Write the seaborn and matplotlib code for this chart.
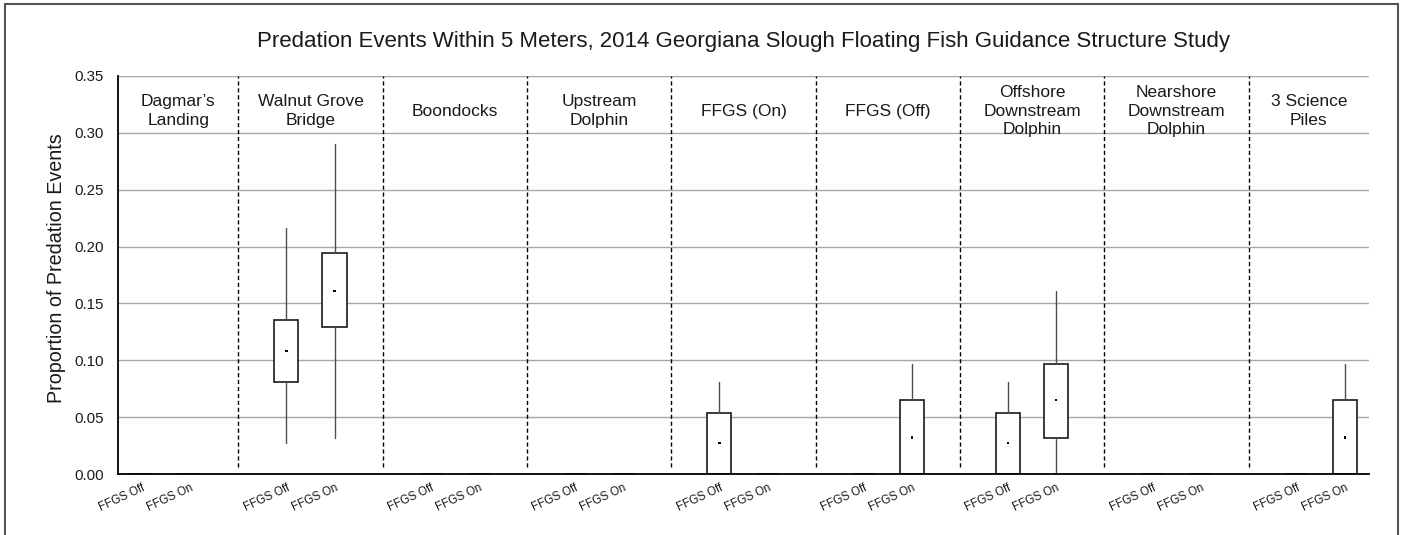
import numpy as np
import pandas as pd
import matplotlib
matplotlib.use("Agg")
import matplotlib.pyplot as plt
import seaborn as sns
from matplotlib.patches import Rectangle

# ---------------- data ----------------
sites = ["Dagmar\u2019s\nLanding", "Walnut Grove\nBridge", "Boondocks", "Upstream\nDolphin",
         "FFGS (On)", "FFGS (Off)", "Offshore\nDownstream\nDolphin",
         "Nearshore\nDownstream\nDolphin", "3 Science\nPiles"]
conditions = ["FFGS Off", "FFGS On"]

whislo_off = [0, 0.027, 0, 0, 0, 0, 0, 0, 0]
q1_off     = [0, 0.081, 0, 0, 0, 0, 0, 0, 0]
q3_off     = [0, 0.135, 0, 0, 0.054, 0, 0.054, 0, 0]
whishi_off = [0, 0.216, 0, 0, 0.081, 0, 0.081, 0, 0]
mean_off   = [0, 0.108, 0, 0, 0.027, 0, 0.027, 0, 0]

whislo_on = [0, 0.032, 0, 0, 0, 0, 0, 0, 0]
q1_on     = [0, 0.129, 0, 0, 0, 0, 0.032, 0, 0]
q3_on     = [0, 0.194, 0, 0, 0, 0.065, 0.097, 0, 0.065]
whishi_on = [0, 0.290, 0, 0, 0, 0.097, 0.161, 0, 0.097]
mean_on   = [0, 0.161, 0, 0, 0, 0.032, 0.065, 0, 0.032]

title = "Predation Events Within 5 Meters, 2014 Georgiana Slough Floating Fish Guidance Structure Study"
ylabel = "Proportion of Predation Events"
yticks = [0.00, 0.05, 0.10, 0.15, 0.20, 0.25, 0.30, 0.35]

# ---------------- style ----------------
sns.set_style("white")
plt.rcParams["font.family"] = ["Liberation Sans", "DejaVu Sans"]

fig = plt.figure(figsize=(14.08, 5.35), dpi=100)
ax = fig.add_axes([118 / 1408, 1 - 474 / 535, (1369 - 118) / 1408, (474 - 76) / 535])

# positions: Off, On, gap for each site
stats, positions, tick_labels, means = [], [], [], []
for i in range(len(sites)):
    for j, (lo, a, b, hi, m) in enumerate([
            (whislo_off[i], q1_off[i], q3_off[i], whishi_off[i], mean_off[i]),
            (whislo_on[i], q1_on[i], q3_on[i], whishi_on[i], mean_on[i])]):
        stats.append(dict(whislo=lo, q1=a, med=m, q3=b, whishi=hi, mean=m, fliers=[]))
        positions.append(3 * i + j)
        tick_labels.append(conditions[j])
        means.append(m)

ax.bxp(stats, positions=positions, widths=0.5, showcaps=False, showfliers=False,
       showmeans=False, patch_artist=True,
       boxprops=dict(facecolor="white", edgecolor="#1a1a1a", linewidth=1.2),
       whiskerprops=dict(color="#4d4d4d", linewidth=1.0),
       medianprops=dict(linewidth=0))

df = pd.DataFrame({"x": positions, "mean": means})
sns.scatterplot(data=df, x="x", y="mean", ax=ax, marker="s", s=3, color="black",
                edgecolor="none", legend=False, zorder=5)

# separators and site labels
seps = [3 * i + 2 for i in range(len(sites) - 1)]
for s in seps:
    ax.plot([s, s], [0.006, 0.35], color="black", lw=1.0, ls=(0, (3, 2)), zorder=4)
xmin, xmax = -0.5, 3 * len(sites) - 1.5
bounds = [xmin] + seps + [xmax]
for i, name in enumerate(sites):
    ax.text((bounds[i] + bounds[i + 1]) / 2, 0.319, name, ha="center", va="center",
            fontsize=12.5, linespacing=1.3, color="#1a1a1a")

ax.set_xlim(xmin, xmax)
ax.set_ylim(0, 0.35)
ax.set_yticks(yticks)
ax.set_yticklabels([f"{t:.2f}" for t in yticks], fontsize=10.8, color="#1a1a1a")
ax.set_xticks(positions)
ax.set_xticklabels(tick_labels, rotation=25, ha="right", rotation_mode="anchor",
                   fontsize=8.3, color="#1a1a1a")
ax.tick_params(axis="x", length=0, pad=6)
ax.tick_params(axis="y", length=4, width=1, color="black", direction="out", pad=6)
ax.yaxis.grid(True, color="#a6a6a6", lw=1.0)
ax.set_axisbelow(True)
ax.set_xlabel("")
ax.set_ylabel(ylabel, fontsize=14.2, color="#1a1a1a")
ax.yaxis.set_label_coords(-0.0415, 0.518)
ax.set_title(title, fontsize=16, pad=21, color="#1a1a1a")
for sp in ["top", "right"]:
    ax.spines[sp].set_visible(False)
for sp in ["left", "bottom"]:
    ax.spines[sp].set_color("black")
    ax.spines[sp].set_linewidth(1.3)

# figure frame
fig.patches.append(Rectangle((5 / 1408, -0.02), (1398 - 5) / 1408, 1.02 - 4 / 535,
                             transform=fig.transFigure, fill=False,
                             edgecolor="#555555", lw=1.5))

fig.savefig("out.png", dpi=100)
